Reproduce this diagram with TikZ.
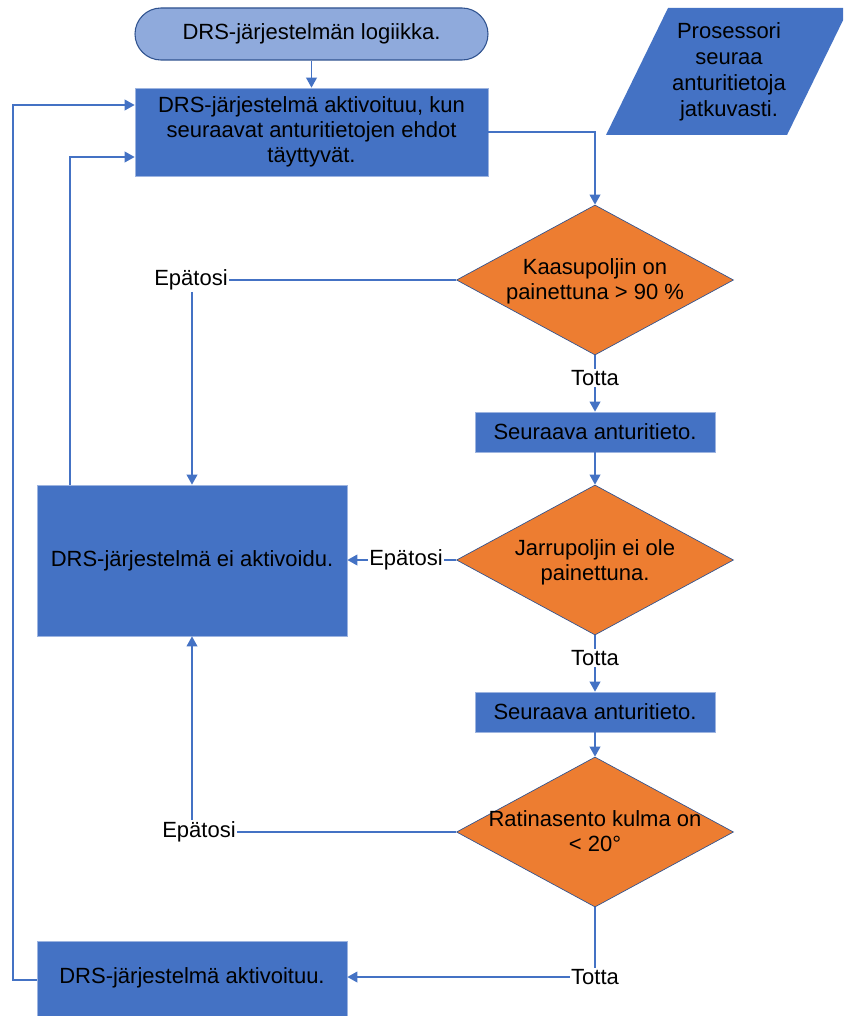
\documentclass[tikz,border=0pt]{standalone}
\usepackage{fontspec}
\setmainfont{Liberation Sans}
\usetikzlibrary{shapes.geometric,arrows.meta,fit,calc}
\definecolor{boxblue}{HTML}{4472C4}
\definecolor{lightblue}{HTML}{8FAADC}
\definecolor{darkblue}{HTML}{2F528F}
\definecolor{orng}{HTML}{ED7D31}
\definecolor{edgeblue}{HTML}{9DB4E0}
\definecolor{lineblue}{HTML}{4472C4}
\begin{document}
\begin{tikzpicture}[x=0.75pt,y=-0.75pt,
  every node/.style={font=\fontsize{16.5}{18.75}\selectfont, text=black},
  bluebox/.style={draw=edgeblue, line width=0.5pt, fill=boxblue, inner sep=0pt, align=center},
  termbox/.style={draw=darkblue, line width=0.8pt, fill=lightblue, inner sep=0pt, rounded corners=19.5pt, align=center},
  dia/.style={diamond, draw=darkblue, line width=0.5pt, fill=orng, inner sep=0pt, minimum width=207.75pt, minimum height=112.5pt},
  lbl/.style={inner sep=1pt, fill=white},
  arr/.style={draw=lineblue, line width=1.2pt, -{Triangle[length=7.5pt,width=8pt]}},
  ln/.style={draw=lineblue, line width=1.2pt}]
\clip (0,0) rectangle (843,1016);
\useasboundingbox (0,0) rectangle (843,1016);
\fill[white] (0,0) rectangle (843,1016);

% terminal and first box
\node[termbox, fit={(135,8)(488,60)}] (term) {};
\node at (term.center) {DRS-järjestelmän logiikka.};
\node[bluebox, fit={(135,88)(488,176)}] (b1) {};
\node[align=center] at (b1.center) {DRS-järjestelmä aktivoituu, kun\\seuraavat anturitietojen ehdot\\täyttyvät.};

% parallelogram
\fill[boxblue] (668,8) -- (849,8) -- (787,135) -- (606,135) -- cycle;
\node[align=center, font=\fontsize{16.5}{19.5}\selectfont] (par) at (729,72) {Prosessori\\seuraa\\anturitietoja\\jatkuvasti.};

% decisions
\node[dia] (d1) at (595,280) {};
\node[align=center] at (595,281) {Kaasupoljin on\\painettuna > 90 \%};
\node[bluebox, fit={(475,412)(715,452)}] (b2) {};
\node at (b2.center) {Seuraava anturitieto.};
\node[dia] (d2) at (595,560) {};
\node[align=center] at (595,562) {Jarrupoljin ei ole\\painettuna.};
\node[bluebox, fit={(475,692)(715,732)}] (b3) {};
\node at (b3.center) {Seuraava anturitieto.};
\node[dia] (d3) at (595,832) {};
\node[align=center] at (595,831) {Ratinasento kulma on\\< 20°};

% left boxes
\node[bluebox, fit={(37,485)(347,636)}] (nei) {};
\node at (nei.center) {DRS-järjestelmä ei aktivoidu.};
\node[bluebox, fit={(37,941)(347,1020)}] (b4) {};
\node at (192,978) {DRS-järjestelmä aktivoituu.};

% labels
\node[lbl] (e1) at (191,280) {Epätosi};
\node[lbl] (t1) at (595,378) {Totta};
\node[lbl] (e2) at (406,560) {Epätosi};
\node[lbl] (t2) at (595,658) {Totta};
\node[lbl] (e3) at (199,832) {Epätosi};
\node[lbl] (t3) at (595,977) {Totta};

\coordinate (L1) at (70,157);
\coordinate (L2) at (13,105);

% connectors
\draw[arr] (term.south) -- (b1.north);
\draw[arr] (b1.east) -| (d1.north);
\draw[ln] (d1.west) -- (e1.east);
\draw[arr] (e1.south -| nei.north) -- (nei.north);
\draw[ln] (d1.south) -- (t1.north);
\draw[arr] (t1.south) -- (b2.north);
\draw[arr] (b2.south) -- (d2.north);
\draw[ln] (d2.west) -- (e2.east);
\draw[arr] (e2.west) -- (nei.east |- e2.west);
\draw[ln] (d2.south) -- (t2.north);
\draw[arr] (t2.south) -- (b3.north);
\draw[arr] (b3.south) -- (d3.north);
\draw[ln] (d3.west) -- (e3.east);
\draw[arr] (e3.north -| nei.south) -- (nei.south);
\draw[ln] (d3.south) -- (t3.north);
\draw[arr] (t3.west) -- (b4.east |- t3.west);
\draw[arr] (nei.north -| L1) -- (L1) -- (L1 -| b1.west);
\draw[arr] (b4.west |- 0,980) -| (L2) -- (L2 -| b1.west);
\end{tikzpicture}
\end{document}
